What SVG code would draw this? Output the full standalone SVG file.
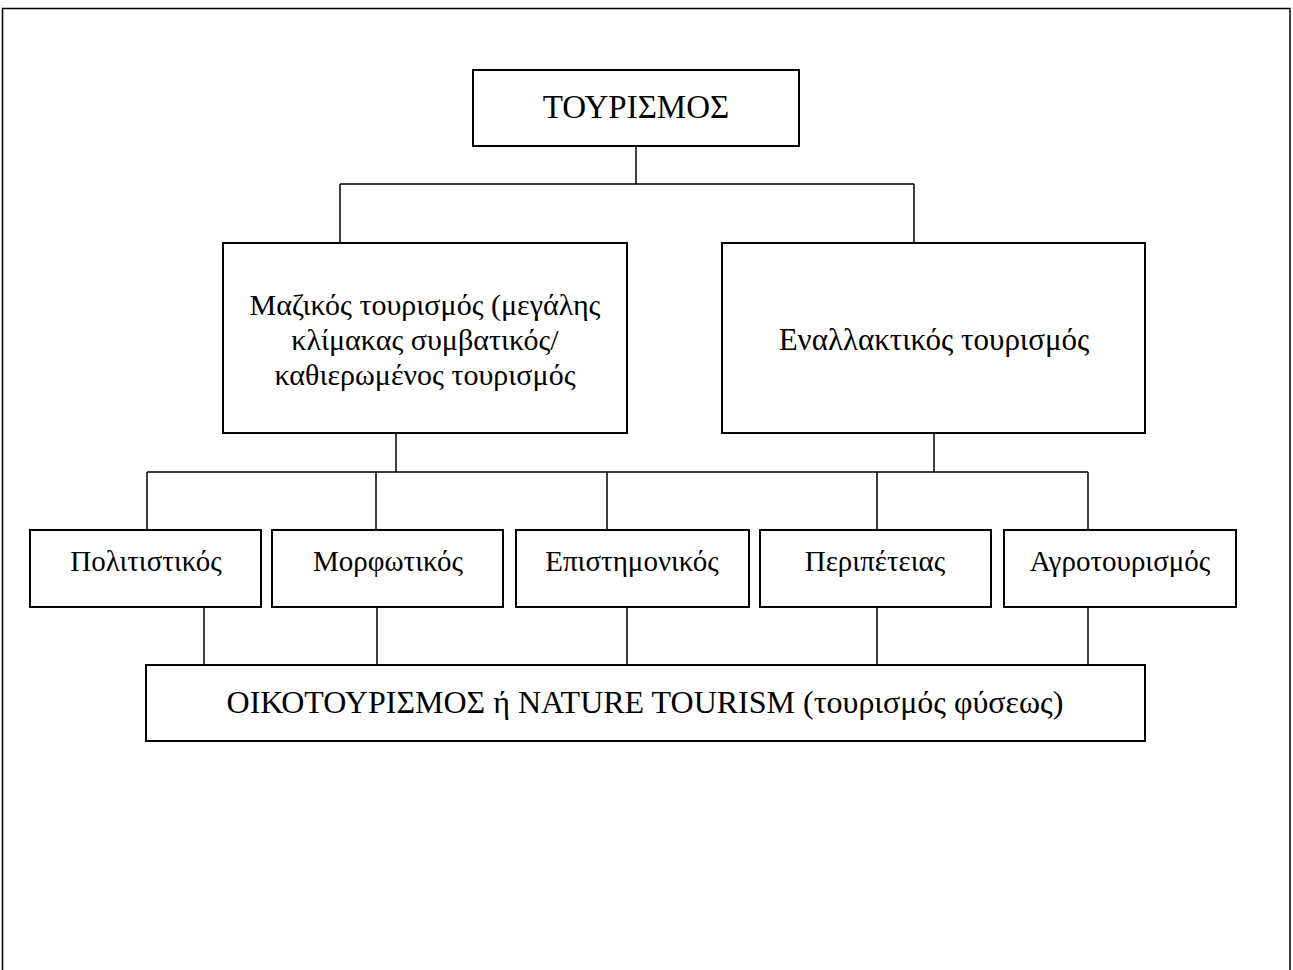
<svg xmlns="http://www.w3.org/2000/svg" width="1293" height="970" viewBox="0 0 1293 970">
<style>
.box{fill:#fff;stroke:#000;stroke-width:2}
.ln{fill:none;stroke:#000;stroke-width:1.5}
.t{font-family:"Liberation Serif","Times New Roman",serif;font-size:29px;fill:#000;text-anchor:middle}
</style>
<rect width="1293" height="970" fill="#fff"/>
<path class="ln" d="M2.5,975 V8.5 H1290 V975"/>
<g id="connectors">
<path class="ln" d="M636,146 V184 M340,184 H914 M340,184 V243 M914,184 V243"/>
<path class="ln" d="M396,433 V472 M934,433 V472 M147,472 H1088 M147,472 V530 M376,472 V530 M607,472 V530 M877,472 V530 M1088,472 V530"/>
<path class="ln" d="M204,607 V665 M377,607 V665 M627,607 V665 M877,607 V665 M1088,607 V665"/>
</g>
<g id="n-tourismos"><rect class="box" x="473" y="70" width="326" height="76"/><text class="t" x="636" y="118" style="font-size:33px">ΤΟΥΡΙΣΜΟΣ</text></g>
<g id="n-mazikos"><rect class="box" x="223" y="243" width="404" height="190"/>
<text class="t" x="425" y="315" style="font-size:30px">Μαζικός τουρισμός (μεγάλης</text>
<text class="t" x="425" y="350" style="font-size:30px">κλίμακας συμβατικός/</text>
<text class="t" x="425" y="385" style="font-size:30px">καθιερωμένος τουρισμός</text></g>
<g id="n-enallaktikos"><rect class="box" x="722" y="243" width="423" height="190"/><text class="t" x="934" y="350" style="font-size:31px">Εναλλακτικός τουρισμός</text></g>
<g id="n-politistikos"><rect class="box" x="30" y="530" width="231" height="77"/><text class="t" x="146" y="571">Πολιτιστικός</text></g>
<g id="n-morfotikos"><rect class="box" x="272" y="530" width="231" height="77"/><text class="t" x="388" y="571">Μορφωτικός</text></g>
<g id="n-epistimonikos"><rect class="box" x="516" y="530" width="233" height="77"/><text class="t" x="632" y="571">Επιστημονικός</text></g>
<g id="n-peripeteias"><rect class="box" x="760" y="530" width="231" height="77"/><text class="t" x="875" y="571">Περιπέτειας</text></g>
<g id="n-agrotourismos"><rect class="box" x="1004" y="530" width="232" height="77"/><text class="t" x="1120" y="571">Αγροτουρισμός</text></g>
<g id="n-oikotourismos"><rect class="box" x="146" y="665" width="999" height="76"/><text class="t" x="645" y="713" style="font-size:32px">ΟΙΚΟΤΟΥΡΙΣΜΟΣ ή NATURE TOURISM (τουρισμός φύσεως)</text></g>
</svg>
